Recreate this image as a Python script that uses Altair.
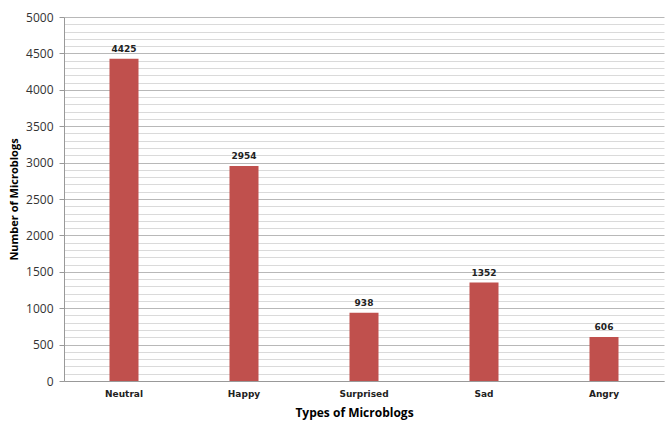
import altair as alt
import pandas as pd

categories = ["Neutral", "Happy", "Surprised", "Sad", "Angry"]
counts = [4425, 2954, 938, 1352, 606]
y_ticks = list(range(0, 5001, 100))

df = pd.DataFrame({"type": categories, "count": counts})

x_enc = alt.X("type:N", sort=categories, title="Types of Microblogs",
              scale=alt.Scale(paddingInner=0.0, paddingOuter=0.0),
              axis=alt.Axis(labelAngle=0, labelFont="DejaVu Sans", labelFontSize=9,
                            labelFontWeight="bold", labelColor="#222", labelPadding=8,
                            ticks=False, domainColor="#999",
                            titleFont="Open Sans", titleFontSize=12, titleFontWeight="bold",
                            titleX=290, titleY=26, titleAnchor="middle"))
y_enc = alt.Y("count:Q", title="Number of Microblogs",
              scale=alt.Scale(domain=[0, 5000], nice=False),
              axis=alt.Axis(values=y_ticks, tickCount=60,
                            labelExpr="datum.value % 500 === 0 ? datum.label : ''",
                            format="d", labelOverlap=False,
                            labelFont="Open Sans", labelFontSize=12, labelColor="#333",
                            labelPadding=6,
                            tickSize=5,
                            tickOpacity={"condition": {"test": "datum.value % 500 === 0", "value": 1}, "value": 0},
                            tickColor="#999", domainColor="#999",
                            gridColor={"condition": {"test": "datum.value % 500 === 0", "value": "#b8b8b8"}, "value": "#dadada"},
                            gridWidth=1,
                            titleFont="Open Sans", titleFontSize=11, titleFontWeight="bold",
                            titlePadding=6))

bars = alt.Chart(df).mark_bar(size=29, color="#C0504D").encode(x=x_enc, y=y_enc)
labels = alt.Chart(df).mark_text(dy=-10, font="DejaVu Sans", fontSize=9, fontWeight="bold",
                                 color="#222").encode(
    x=alt.X("type:N", sort=categories), y="count:Q", text="count:Q")

chart = (bars + labels).properties(
    width=600, height=364,
    autosize=alt.AutoSizeParams(type="none"),
    padding={"left": 64, "top": 17, "right": 1, "bottom": 44},
    background="white",
).configure_view(stroke=None)

chart.save("out.html", embed_options={"renderer": "svg", "actions": False})
